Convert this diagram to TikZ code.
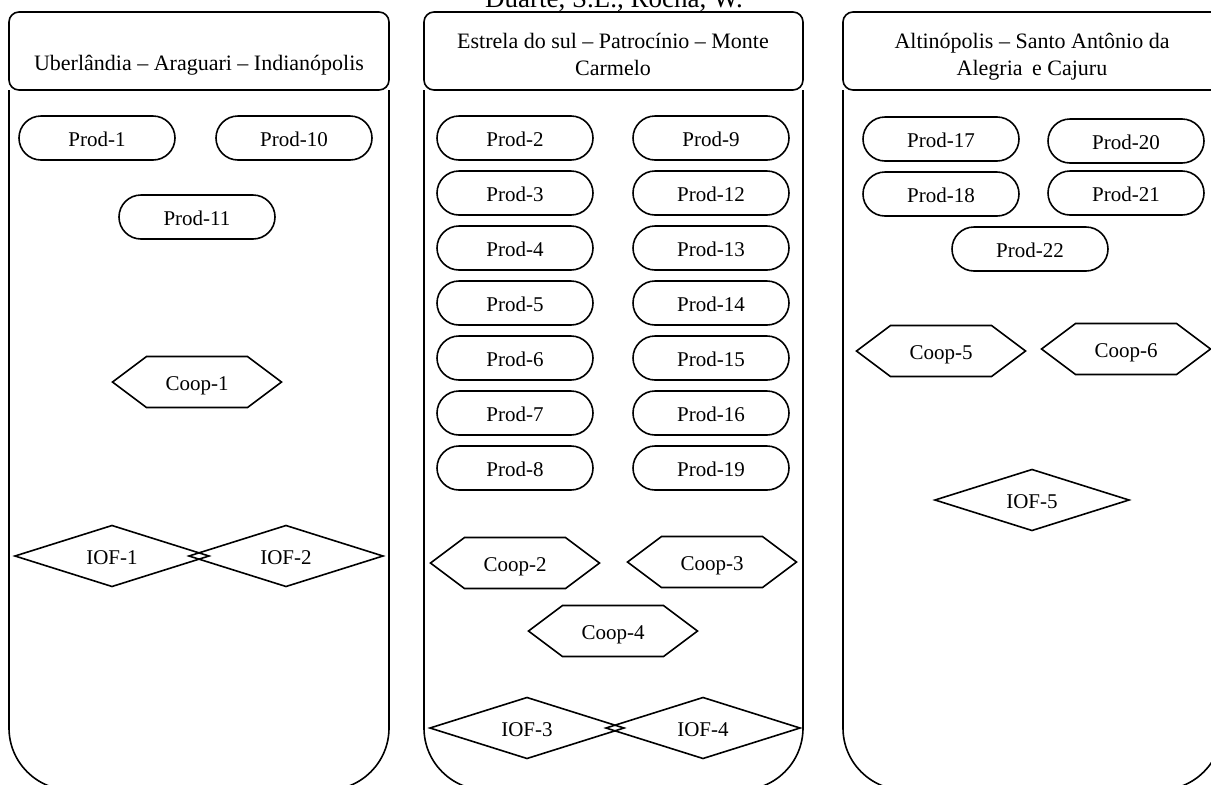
\documentclass[tikz,border=0pt]{standalone}
\usepackage{fontspec}
\setmainfont{Liberation Serif}
\usetikzlibrary{calc}
\newcommand\coopnode[4]{%
  \node[lbl] (#1) at (#2,#3) {#4};
  \draw[shp] ($(#1.center)+(-84.5,0)$) -- ++(34,-25.5) -- ++(101,0) -- ++(34,25.5) -- ++(-34,25.5) -- ++(-101,0) -- cycle;}
\newcommand\iofnode[4]{%
  \node[lbl] (#1) at (#2,#3) {#4};
  \draw[shp] ($(#1.center)+(-97,0)$) -- ++(97,-30.5) -- ++(97,30.5) -- ++(-97,30.5) -- cycle;}
\begin{document}
\begin{tikzpicture}[x=1pt,y=-1pt,
  shp/.style={draw=black,line width=1.6pt},
  lbl/.style={inner sep=0pt,text height=19pt,text depth=3pt,font=\fontsize{21}{25}\selectfont},
  prodbox/.style={lbl,draw=black,line width=1.6pt,rounded corners=22pt,minimum width=156pt,minimum height=44pt},
  ttl/.style={inner sep=0pt,font=\fontsize{22}{27}\selectfont},
  panelline/.style={draw=black,line width=1.6pt}]
\useasboundingbox (0,0) rectangle (1211,785);
\fill[white] (0,0) rectangle (1211,785);
\clip (0,0) rectangle (1211,785);
% running head
\node[inner sep=0pt,anchor=base,font=\fontsize{27}{30}\selectfont] (head) at (614,7.5) {Duarte, S.L., Rocha, W.};
% panels
\foreach \l/\r in {9/389,424/803,843/1222}{
  \draw[panelline,rounded corners=62pt] (\l,90) -- (\l,790) -- (\r,790) -- (\r,90);
  \draw[panelline,rounded corners=10pt] (\l,12) rectangle (\r,90);
}
% titles
\node[ttl,anchor=base] (t1) at (199,70) {Uberlândia – Araguari – Indianópolis};
\node[ttl,anchor=north,align=center] (t2) at (613,33) {Estrela do sul – Patrocínio – Monte\\Carmelo};
\node[ttl,anchor=north,align=center] (t3) at (1032,33) {Altinópolis – Santo Antônio da\\Alegria\hspace{4pt} e Cajuru};
% panel 1
\node[prodbox] (p1) at (97,138) {Prod-1};
\node[prodbox] (p10) at (294,138) {Prod-10};
\node[prodbox] (p11) at (197,217) {Prod-11};
\coopnode{c1}{197}{382}{Coop-1}
\iofnode{i1}{112}{556}{IOF-1}
\iofnode{i2}{286}{556}{IOF-2}
% panel 2
\node[prodbox] (p2) at (515,138) {Prod-2};
\node[prodbox] (p3) at (515,193) {Prod-3};
\node[prodbox] (p4) at (515,248) {Prod-4};
\node[prodbox] (p5) at (515,303) {Prod-5};
\node[prodbox] (p6) at (515,358) {Prod-6};
\node[prodbox] (p7) at (515,413) {Prod-7};
\node[prodbox] (p8) at (515,468) {Prod-8};
\node[prodbox] (p9) at (711,138) {Prod-9};
\node[prodbox] (p12) at (711,193) {Prod-12};
\node[prodbox] (p13) at (711,248) {Prod-13};
\node[prodbox] (p14) at (711,303) {Prod-14};
\node[prodbox] (p15) at (711,358) {Prod-15};
\node[prodbox] (p16) at (711,413) {Prod-16};
\node[prodbox] (p19) at (711,468) {Prod-19};
\coopnode{c2}{515}{563}{Coop-2}
\coopnode{c3}{712}{562}{Coop-3}
\coopnode{c4}{613}{631}{Coop-4}
\iofnode{i3}{527}{728}{IOF-3}
\iofnode{i4}{703}{728}{IOF-4}
% panel 3
\node[prodbox] (p17) at (941,139) {Prod-17};
\node[prodbox] (p20) at (1126,141) {Prod-20};
\node[prodbox] (p18) at (941,194) {Prod-18};
\node[prodbox] (p21) at (1126,193) {Prod-21};
\node[prodbox] (p22) at (1030,249) {Prod-22};
\coopnode{c5}{941}{351}{Coop-5}
\coopnode{c6}{1126}{349}{Coop-6}
\iofnode{i5}{1032}{500}{IOF-5}
\end{tikzpicture}
\end{document}
